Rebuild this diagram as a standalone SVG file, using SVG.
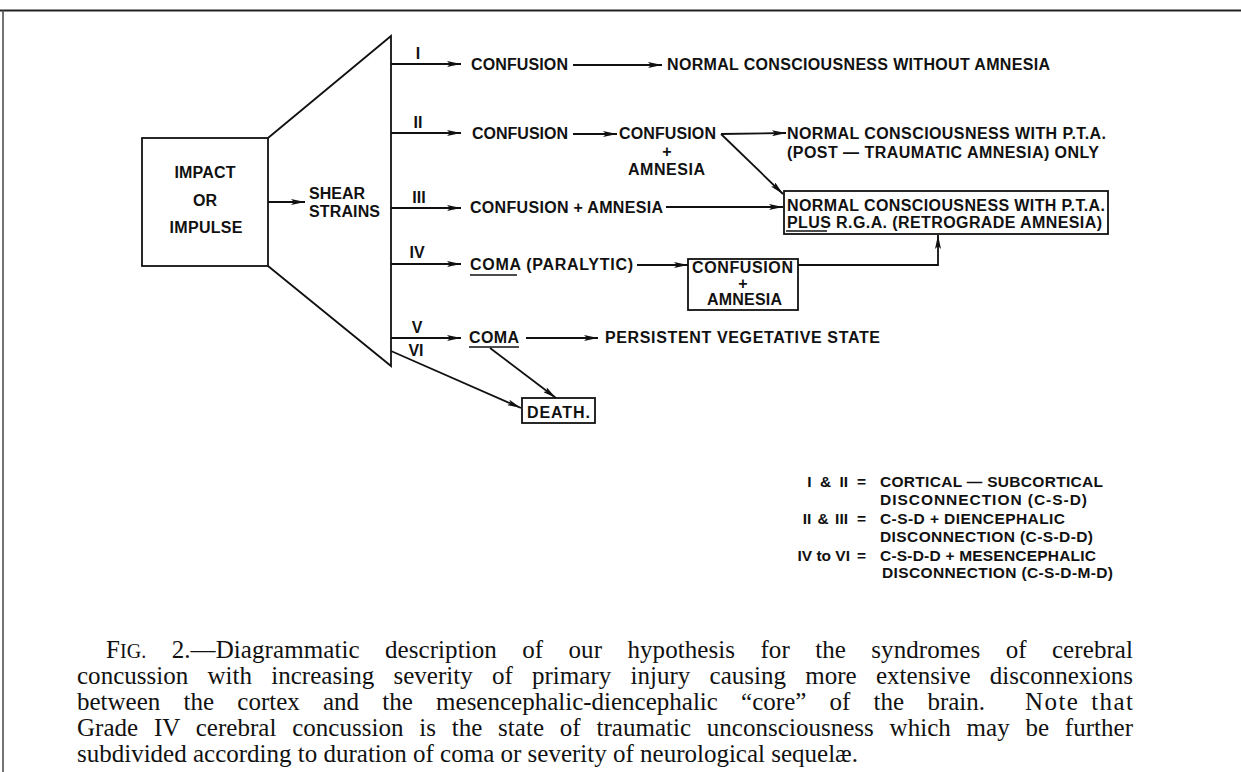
<svg xmlns="http://www.w3.org/2000/svg" width="1241" height="772" viewBox="0 0 1241 772">
<style>
.t{font-family:"Liberation Sans",Arial,sans-serif;font-weight:bold;font-size:16px;fill:#111}
.lg{font-family:"Liberation Sans",Arial,sans-serif;font-weight:bold;font-size:15.5px;fill:#111}
.cap{font-family:"Liberation Serif","Times New Roman",serif;font-size:25px;fill:#111}
.ln{stroke:#111;stroke-width:1.8;fill:none}
.bx{stroke:#111;stroke-width:1.8;fill:none}
.ar{stroke:#111;stroke-width:1.8;fill:none;marker-end:url(#ah)}
</style>
<defs>
<marker id="ah" viewBox="0 0 14 6" refX="14" refY="3" markerWidth="14" markerHeight="6" markerUnits="userSpaceOnUse" orient="auto">
<path d="M0,0 L14,3 L0,6 L3,3 z" fill="#111"/>
</marker>
</defs>
<rect x="0" y="0" width="1241" height="772" fill="#fff"/>
<g id="frame">
<line x1="0" y1="10.5" x2="1241" y2="10.5" stroke="#222" stroke-width="2"/>
<line x1="3" y1="10" x2="3" y2="772" stroke="#444" stroke-width="1.5"/>
</g>
<g id="impact">
<rect class="bx" x="142" y="138" width="126" height="128"/>
<text class="t" x="205" y="178" text-anchor="middle" textLength="61">IMPACT</text>
<text class="t" x="205" y="206" text-anchor="middle">OR</text>
<text class="t" x="206" y="233" text-anchor="middle" textLength="73">IMPULSE</text>
</g>
<g id="shear">
<path class="ln" d="M268,138 L391,36 L391,366 L268,266"/>
<text class="t" x="309" y="199" textLength="56">SHEAR</text>
<text class="t" x="309" y="217" textLength="71">STRAINS</text>
</g>
<g id="grades">
<text class="t" x="418" y="59" text-anchor="middle">I</text>
<text class="t" x="418" y="128" text-anchor="middle">II</text>
<text class="t" x="419" y="203" text-anchor="middle">III</text>
<text class="t" x="417" y="258" text-anchor="middle">IV</text>
<text class="t" x="417" y="333" text-anchor="middle">V</text>
<text class="t" x="416" y="356" text-anchor="middle">VI</text>
</g>
<g id="row1">
<text class="t" x="471" y="70" textLength="97">CONFUSION</text>
<text class="t" x="667" y="70" textLength="383">NORMAL CONSCIOUSNESS WITHOUT AMNESIA</text>
</g>
<g id="row2">
<text class="t" x="472" y="139" textLength="96">CONFUSION</text>
<text class="t" x="619" y="139" textLength="97">CONFUSION</text>
<text class="t" x="667" y="157" text-anchor="middle">+</text>
<text class="t" x="628" y="175" textLength="77">AMNESIA</text>
<text class="t" x="787" y="139" textLength="319">NORMAL CONSCIOUSNESS WITH P.T.A.</text>
<text class="t" x="787" y="158" textLength="312">(POST — TRAUMATIC AMNESIA) ONLY</text>
</g>
<g id="rga">
<rect class="bx" x="784" y="191" width="324" height="43"/>
<text class="t" x="787" y="211" textLength="318">NORMAL CONSCIOUSNESS WITH P.T.A.</text>
<text class="t" x="787" y="228" textLength="315">PLUS R.G.A. (RETROGRADE AMNESIA)</text>
<line x1="786" y1="231" x2="827" y2="231" stroke="#111" stroke-width="1.5"/>
</g>
<g id="row3">
<text class="t" x="470" y="213" textLength="193">CONFUSION + AMNESIA</text>
</g>
<g id="row4">
<text class="t" x="470" y="270" textLength="163">COMA (PARALYTIC)</text>
<line x1="470" y1="275" x2="517" y2="275" stroke="#111" stroke-width="1.5"/>
</g>
<g id="confam">
<rect class="bx" x="688" y="259" width="110" height="51"/>
<text class="t" x="692" y="273" textLength="101">CONFUSION</text>
<text class="t" x="743" y="289" text-anchor="middle">+</text>
<text class="t" x="707" y="305" textLength="75">AMNESIA</text>
</g>
<g id="row5">
<text class="t" x="469" y="343" textLength="50">COMA</text>
<line x1="469" y1="347" x2="519" y2="347" stroke="#111" stroke-width="1.5"/>
<text class="t" x="605" y="343" textLength="275">PERSISTENT VEGETATIVE STATE</text>
</g>
<g id="death">
<rect class="bx" x="522" y="398" width="73" height="25"/>
<text class="t" x="527" y="418" textLength="63">DEATH.</text>
</g>
<g id="connectors">
<line class="ar" x1="268" y1="202" x2="305" y2="202"/>
<line class="ar" x1="391" y1="64" x2="461" y2="64"/>
<line class="ar" x1="391" y1="133" x2="461" y2="133"/>
<line class="ar" x1="391" y1="208" x2="461" y2="208"/>
<line class="ar" x1="391" y1="264" x2="461" y2="264"/>
<line class="ar" x1="391" y1="338" x2="461" y2="338"/>
<line class="ar" x1="391" y1="351" x2="521" y2="408"/>
<line class="ar" x1="573" y1="65" x2="662" y2="65"/>
<line class="ar" x1="573" y1="134" x2="617" y2="134"/>
<line class="ar" x1="721" y1="134" x2="786" y2="133"/>
<line class="ar" x1="721" y1="134" x2="783" y2="194"/>
<line class="ar" x1="666" y1="207" x2="783" y2="207"/>
<line class="ar" x1="637" y1="265" x2="688" y2="265"/>
<path class="ar" d="M798,265 L938,265 L938,235"/>
<line class="ar" x1="526" y1="338" x2="598" y2="338"/>
<line class="ar" x1="490" y1="348" x2="556" y2="398"/>
</g>
<g id="legend">
<text class="lg" x="848" y="487" text-anchor="end" word-spacing="4">I &amp; II</text>
<text class="lg" x="857" y="487">=</text>
<text class="lg" x="880" y="487" textLength="223">CORTICAL — SUBCORTICAL</text>
<text class="lg" x="880" y="505" textLength="207">DISCONNECTION (C-S-D)</text>
<text class="lg" x="848" y="524" text-anchor="end" word-spacing="2">II &amp; III</text>
<text class="lg" x="857" y="524">=</text>
<text class="lg" x="880" y="524" textLength="185">C-S-D + DIENCEPHALIC</text>
<text class="lg" x="880" y="542" textLength="213">DISCONNECTION (C-S-D-D)</text>
<text class="lg" x="850" y="561" text-anchor="end">IV to VI</text>
<text class="lg" x="857" y="561">=</text>
<text class="lg" x="880" y="561" textLength="216">C-S-D-D + MESENCEPHALIC</text>
<text class="lg" x="882" y="578" textLength="231">DISCONNECTION (C-S-D-M-D)</text>
</g>
<g id="caption">
<text class="cap" x="106" y="658" word-spacing="19" textLength="1027" lengthAdjust="spacing">F<tspan font-size="20">IG.</tspan> 2.—Diagrammatic description of our hypothesis for the syndromes of cerebral</text>
<text class="cap" x="77" y="684" word-spacing="13" textLength="1056" lengthAdjust="spacing">concussion with increasing severity of primary injury causing more extensive disconnexions</text>
<text class="cap" x="77" y="710" word-spacing="17" textLength="908" lengthAdjust="spacing">between the cortex and the mesencephalic-diencephalic “core” of the brain.</text>
<text class="cap" x="1025" y="710" word-spacing="4" textLength="108" lengthAdjust="spacing">Note that</text>
<text class="cap" x="77" y="736" word-spacing="9.5" textLength="1056" lengthAdjust="spacing">Grade IV cerebral concussion is the state of traumatic unconsciousness which may be further</text>
<text class="cap" x="77" y="762">subdivided according to duration of coma or severity of neurological sequelæ.</text>
</g>
</svg>
